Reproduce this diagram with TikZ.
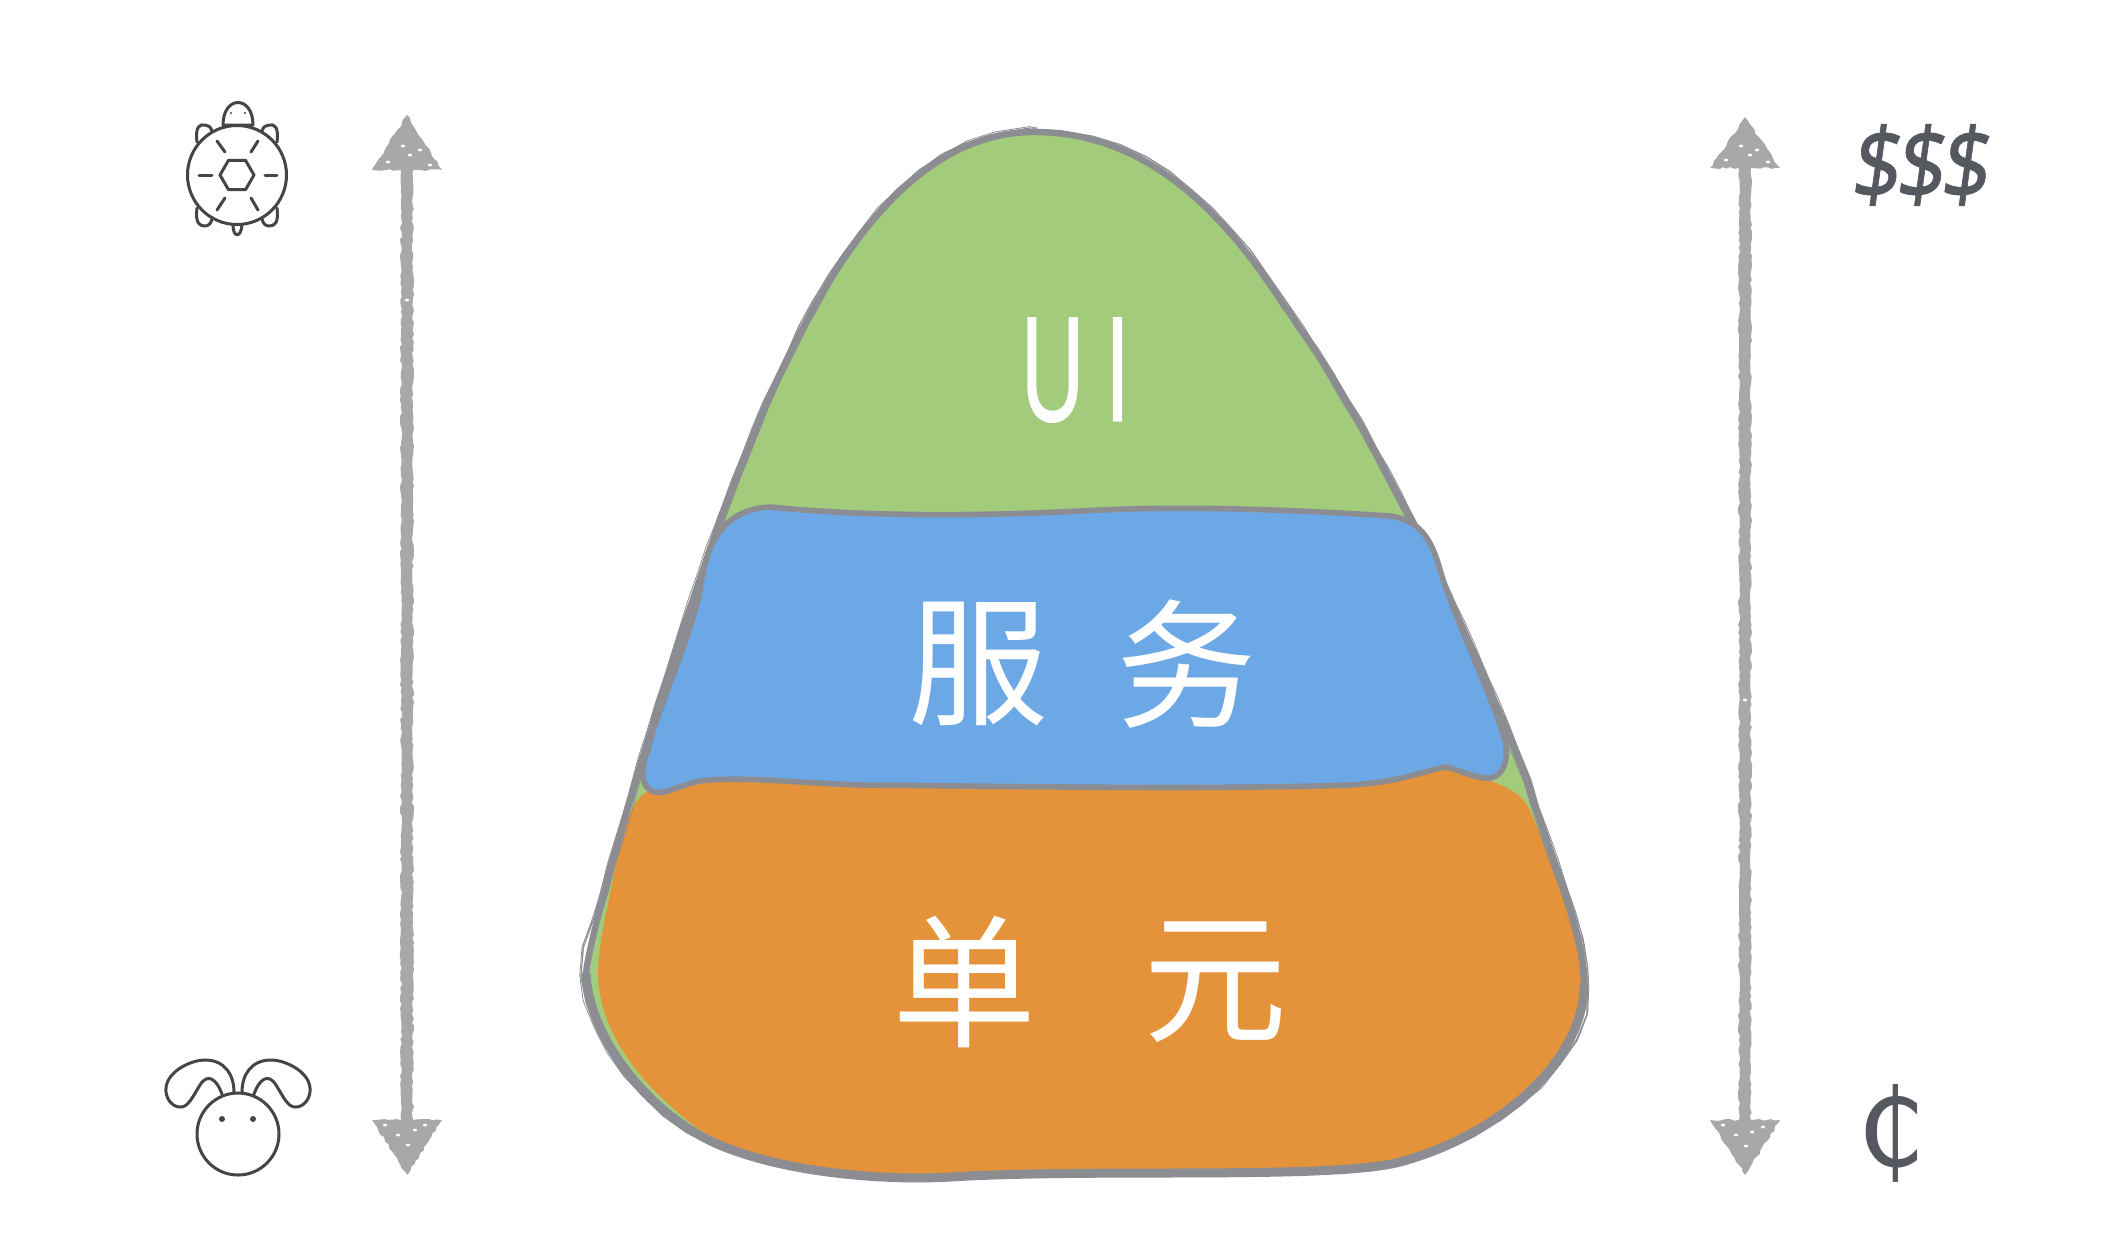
\documentclass[tikz,border=0pt]{standalone}
\usepackage{fontspec}
\newfontfamily\cjk{Noto Sans CJK SC}
\newfontfamily\uifont[FakeStretch=0.62,FakeBold=1.2]{Open Sans}
\newfontfamily\dollarfont[FakeSlant=0.14,FakeStretch=0.85,FakeBold=0.6]{Noto Sans}
\newfontfamily\centfont{DejaVu Sans}
\usetikzlibrary{decorations.pathmorphing}
\definecolor{pgreen}{HTML}{A2CC7B}
\definecolor{pblue}{HTML}{6BA8E5}
\definecolor{porange}{HTML}{E4933A}
\definecolor{pline}{HTML}{8B8D92}
\definecolor{parrow}{HTML}{A7A9A9}
\definecolor{picon}{HTML}{454545}
\definecolor{ptext}{HTML}{55585F}
\tikzset{
  outerpath/.style={insert path={(1034,132) .. controls (1130,132) and (1210,190) .. (1283,304)
     .. controls (1350,395) and (1440,560) .. (1527,780)
     .. controls (1555,870) and (1584,930) .. (1584,985)
     .. controls (1584,1060) and (1500,1135) .. (1400,1162)
     .. controls (1330,1180) and (1100,1168) .. (950,1177)
     .. controls (880,1181) and (780,1172) .. (715,1143)
     .. controls (650,1114) and (590,1040) .. (586,975)
     .. controls (586,940) and (680,620) .. (736,480)
     .. controls (790,340) and (880,132) .. (1034,132) -- cycle}},
  lowerpath/.style={insert path={(1584,985)
     .. controls (1584,1060) and (1500,1135) .. (1400,1162)
     .. controls (1330,1180) and (1100,1168) .. (950,1177)
     .. controls (880,1181) and (780,1172) .. (715,1143)
     .. controls (650,1114) and (590,1040) .. (586,975)}},
  bluepath/.style={insert path={(770,507) .. controls (880,518) and (1000,515) .. (1081,511)
     .. controls (1180,505) and (1300,510) .. (1390,516)
     .. controls (1420,520) and (1432,540) .. (1440,570)
     .. controls (1455,620) and (1490,690) .. (1505,740)
     .. controls (1510,765) and (1500,780) .. (1485,778)
     .. controls (1465,775) and (1455,768) .. (1445,767)
     .. controls (1420,772) and (1400,782) .. (1351,785)
     .. controls (1200,790) and (1000,786) .. (860,785)
     .. controls (800,783) and (740,776) .. (700,781)
     .. controls (680,785) and (665,795) .. (655,792)
     .. controls (640,788) and (640,770) .. (648,750)
     .. controls (655,715) and (690,640) .. (700,590)
     .. controls (705,555) and (715,510) .. (770,507) -- cycle}},
  orangepath/.style={insert path={(650,790) .. controls (630,800) and (622,830) .. (617,857)
     .. controls (610,900) and (598,940) .. (598,975)
     .. controls (600,1040) and (650,1093) .. (700,1130)
     .. controls (750,1163) and (850,1176) .. (950,1176)
     .. controls (1100,1176) and (1280,1180) .. (1400,1160)
     .. controls (1500,1135) and (1582,1060) .. (1582,985)
     .. controls (1582,930) and (1550,860) .. (1530,810)
     .. controls (1520,790) and (1500,782) .. (1447,768)
     .. controls (1420,775) and (1400,782) .. (1351,785)
     -- (860,785) -- (700,781) -- cycle}},
  blob/.style={draw=pline,line width=3.2pt,line join=round},
  sketchline/.style={draw=pline,line width=.4pt,decorate,decoration={random steps,segment length=14pt,amplitude=.5pt}},
  iconline/.style={draw=picon,line width=1.5pt,line cap=round,line join=round},
  roughfill/.style={fill=parrow,decorate,decoration={random steps,segment length=2pt,amplitude=.55pt}},
  speck/.style={fill=white,draw=none},
  bigtext/.style={text=white,inner sep=0pt,anchor=center},
}
\begin{document}
\begin{tikzpicture}[x=0.5pt,y=-0.5pt]
\pgfmathsetseed{7}
\useasboundingbox[fill=white] (0,0) rectangle (2108,1244);
% outer green body
\fill[pgreen,outerpath];
\fill[porange,orangepath];
\draw[blob,outerpath];
\path[draw=pline,line width=4.5pt,line cap=round,lowerpath];
\foreach \dx/\dy in {-1.2/.8,1.2/-.8,1.5/.5,-1.5/-.5,2/0,-2/0}{
  \path[sketchline,xshift=\dx pt,yshift=\dy pt,outerpath];
}
% blue layer
\path[fill=pblue,bluepath];
\path[draw=pline,line width=2.8pt,line join=round,bluepath];
% left arrow
\fill[roughfill] (401,170) -- (372,170) -- (407,115) -- (442,170) -- (413,170) -- (413,1120) -- (442,1120) -- (407,1175) -- (372,1120) -- (401,1120) -- cycle;
% right arrow
\fill[roughfill] (1739,168) -- (1710,168) -- (1745,117) -- (1780,168) -- (1751,168) -- (1751,1120) -- (1780,1120) -- (1745,1175) -- (1710,1120) -- (1739,1120) -- cycle;
\foreach \x/\y in {403/146,388/162,430/165,410/155,420/150,
                   385/1125,425/1125,408/1145,398/1135,415/1130,
                   1741/146,1726/160,1768/162,1750/155,1757/150,
                   1723/1125,1763/1127,1746/1146,1736/1135,1752/1132,
                   407/300,1745/700}{
  \fill[speck] (\x,\y) ellipse (1.1pt and .7pt);
}
% turtle
\draw[iconline] (237,175) circle (49.5);
\draw[iconline] (254,175) -- (245.5,189.7) -- (228.5,189.7) -- (220,175) -- (228.5,160.3) -- (245.5,160.3) -- cycle;
\draw[iconline] (199,175) -- (212,175) (265,175) -- (277,175);
\draw[iconline] (217,141) -- (225,152) (258,141) -- (251,152) (217,210) -- (225,198) (258,210) -- (251,198);
\draw[iconline] (223,125) .. controls (223,95) and (253,95) .. (253,125) -- cycle;
\fill[picon] (231,113) circle (1.2) (245,113) circle (1.2);
\draw[iconline] (197,142) .. controls (195,126) and (200,124) .. (205,125) .. controls (208,125) and (211,127) .. (212,131);
\draw[iconline] (277,142) .. controls (279,126) and (274,124) .. (269,125) .. controls (266,125) and (263,127) .. (262,131);
\draw[iconline] (197,208) .. controls (195,224) and (200,226) .. (205,226) .. controls (208,226) and (211,224) .. (212,219);
\draw[iconline] (277,208) .. controls (279,224) and (274,226) .. (269,226) .. controls (266,226) and (263,224) .. (262,219);
\draw[iconline] (233,225) .. controls (233,238) and (241,238) .. (242,225);
% rabbit
\draw[iconline] (238,1134) circle (41);
\fill[picon] (222,1119) circle (3) (253,1119) circle (3);
\draw[iconline] (222,1094) .. controls (217,1080) and (208,1072) .. (200,1085) .. controls (193,1096) and (188,1108) .. (180,1107) .. controls (172,1107) and (165,1098) .. (166,1088) .. controls (167,1072) and (190,1060) .. (205,1060) .. controls (225,1060) and (234,1075) .. (234,1092);
\draw[iconline] (254,1094) .. controls (259,1080) and (268,1072) .. (276,1085) .. controls (283,1096) and (288,1108) .. (296,1107) .. controls (304,1107) and (311,1098) .. (310,1088) .. controls (309,1072) and (286,1060) .. (271,1060) .. controls (251,1060) and (242,1075) .. (242,1092);
% labels
\node[bigtext] (ui) at (1075,370) {\uifont\fontsize{72}{80}\selectfont U\kern10pt I};
\node[bigtext] (fu) at (978,664) {\cjk\fontsize{70}{80}\selectfont 服};
\node[bigtext] (wu) at (1186,664) {\cjk\fontsize{70}{80}\selectfont 务};
\node[bigtext] (dan) at (964,982) {\cjk\fontsize{72}{80}\selectfont 单};
\node[bigtext] (yuan) at (1215,982) {\cjk\fontsize{72}{80}\selectfont 元};
\node[text=ptext,inner sep=0pt] (dollars) at (1918,165) {\dollarfont\fontsize{50}{60}\selectfont \$\kern-2pt\$\kern-2pt\$};
\node[text=ptext,inner sep=0pt] (cent) at (1892,1133) {\centfont\fontsize{54}{60}\selectfont ₵};
\end{tikzpicture}
\end{document}
